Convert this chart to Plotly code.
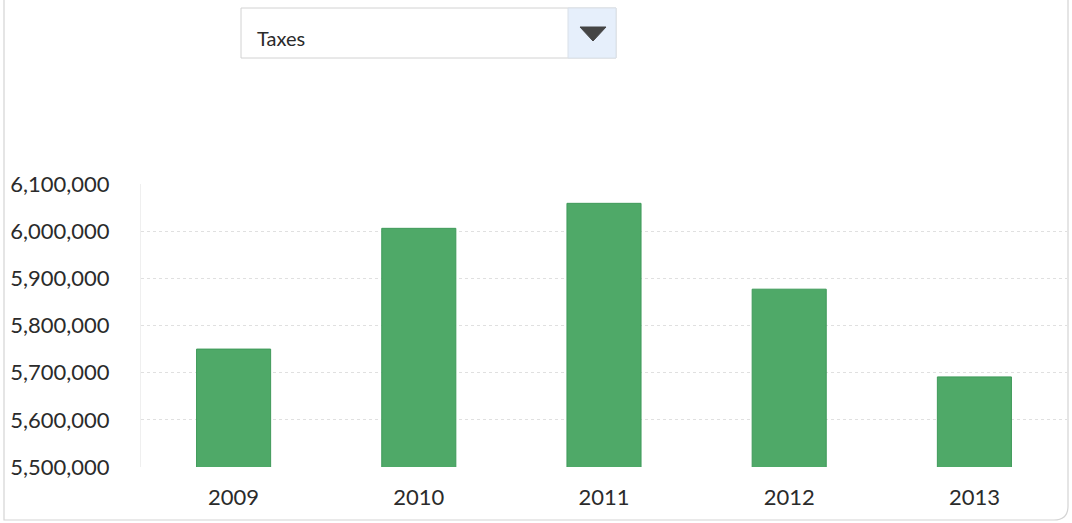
import plotly.graph_objects as go

# Annual tax totals
years = ["2009", "2010", "2011", "2012", "2013"]
taxes = [5750000, 6006000, 6059000, 5877000, 5691000]

selected_measure = "Taxes"

W, H = 1072, 523
M_L, M_R, M_T, M_B = 141, 5, 184, 56

fig = go.Figure(
    go.Bar(
        x=years,
        y=taxes,
        marker=dict(color="#4fa968", line=dict(color="#3f9a5a", width=1)),
        width=0.4,
        hovertemplate="%{x}: %{y:,}<extra></extra>",
    )
)


def px_to_paper_x(px):
    return (px - M_L) / (W - M_L - M_R)


def px_to_paper_y(py):
    return (H - M_B - py) / (H - M_T - M_B)


shapes = []
# outer card border
shapes.append(dict(
    type="path", xref="paper", yref="paper",
    path=(
        f"M {px_to_paper_x(4)} {px_to_paper_y(0)} "
        f"L {px_to_paper_x(4)} {px_to_paper_y(520)} "
        f"L {px_to_paper_x(1054)} {px_to_paper_y(520)} "
        f"Q {px_to_paper_x(1068)} {px_to_paper_y(520)} {px_to_paper_x(1068)} {px_to_paper_y(506)} "
        f"L {px_to_paper_x(1068)} {px_to_paper_y(0)}"
    ),
    line=dict(color="#d4d4d4", width=1.2),
    layer="below",
))
# dropdown box
shapes.append(dict(
    type="rect", xref="paper", yref="paper",
    x0=px_to_paper_x(241), x1=px_to_paper_x(616),
    y0=px_to_paper_y(58), y1=px_to_paper_y(8),
    line=dict(color="#d2d2d2", width=1), fillcolor="white",
))
# dropdown button
shapes.append(dict(
    type="rect", xref="paper", yref="paper",
    x0=px_to_paper_x(568), x1=px_to_paper_x(616),
    y0=px_to_paper_y(58), y1=px_to_paper_y(8),
    line=dict(color="#d9e0e8", width=1), fillcolor="#e6effb",
))
# dropdown arrow
shapes.append(dict(
    type="path", xref="paper", yref="paper",
    path=(
        f"M {px_to_paper_x(580)} {px_to_paper_y(27)} "
        f"L {px_to_paper_x(606)} {px_to_paper_y(27)} "
        f"L {px_to_paper_x(593)} {px_to_paper_y(41)} Z"
    ),
    fillcolor="#454545", line=dict(color="#454545", width=1),
))

fig.update_layout(
    width=W, height=H,
    margin=dict(l=M_L, r=M_R, t=M_T, b=M_B),
    paper_bgcolor="white",
    plot_bgcolor="white",
    showlegend=False,
    bargap=0.6,
    font=dict(family="Lato, sans-serif", color="#2b2b2b"),
    shapes=shapes,
    annotations=[dict(
        text=selected_measure, xref="paper", yref="paper",
        x=px_to_paper_x(255), y=px_to_paper_y(38),
        xanchor="left", yanchor="middle", showarrow=False,
        font=dict(size=20, color="#2b2b2b", family="Lato, sans-serif"),
    )],
)

fig.update_yaxes(
    range=[5500000, 6100000],
    dtick=100000,
    tickformat=",",
    showgrid=True,
    gridcolor="#e0e0e0",
    griddash="dot",
    gridwidth=1,
    zeroline=False,
    showline=True,
    linecolor="#efefef",
    ticks="",
    ticklabelstandoff=26,
    tickfont=dict(size=22, color="#2b2b2b"),
)
fig.update_xaxes(
    showgrid=False,
    showline=False,
    ticks="",
    ticklabelstandoff=15,
    tickfont=dict(size=22, color="#2b2b2b"),
)

fig.write_html("out.html")
